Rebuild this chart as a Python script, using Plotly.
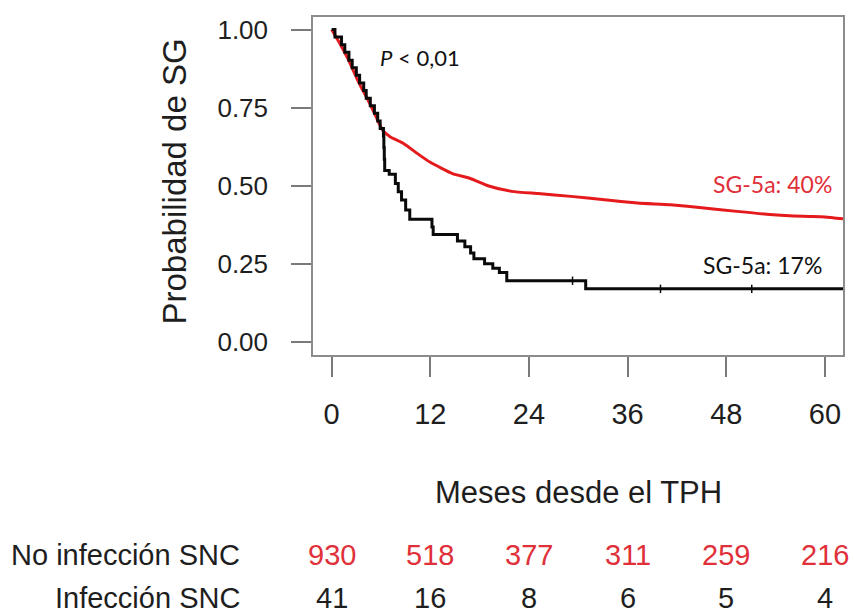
import plotly.graph_objects as go

# Kaplan-Meier overall survival, months since HSCT
months_no_inf = [0, 1.0, 2.0, 3.3, 4.5, 5.5, 6.2, 7.1, 8.7, 10.7, 12.0, 14.7, 16.8,
                 19.0, 21.9, 25.1, 29.1, 33.2, 37.2, 41.2, 45.3, 49.3, 53.3, 57.4, 60.0, 62.2]
surv_no_inf = [1.0, 0.955, 0.905, 0.83, 0.77, 0.715, 0.678, 0.657, 0.636, 0.598, 0.575, 0.539, 0.524,
               0.50, 0.482, 0.475, 0.466, 0.455, 0.445, 0.439, 0.429, 0.418, 0.408, 0.402, 0.40, 0.394]

months_inf = [0, 0.4, 1.2, 1.6, 2.1, 2.5, 3.0, 3.4, 3.9, 4.2, 4.7, 5.2, 5.6, 5.9, 6.3,
              6.35, 6.4, 6.45, 7.0, 7.75, 8.1, 8.5, 9.0, 9.5, 12.2, 12.35, 15.3, 16.2,
              16.9, 17.3, 18.6, 19.6, 20.4, 21.3, 30.9, 62.2]
surv_inf = [1.0, 0.976, 0.951, 0.927, 0.902, 0.878, 0.854, 0.829, 0.805, 0.780, 0.756, 0.732, 0.707, 0.683, 0.659,
            0.622, 0.585, 0.549, 0.537, 0.507, 0.481, 0.454, 0.422, 0.393, 0.368, 0.344, 0.323, 0.305,
            0.285, 0.266, 0.250, 0.236, 0.222, 0.196, 0.170, 0.170]
censor_months_inf = [29.3, 40.0, 51.1]
censor_surv_inf = [0.196, 0.170, 0.170]

tick_months = [0, 12, 24, 36, 48, 60]
at_risk_no_inf = [930, 518, 377, 311, 259, 216]
at_risk_inf = [41, 16, 8, 6, 5, 4]
group_labels = ["No infección SNC", "Infección SNC"]
y_ticks = [0, 0.25, 0.5, 0.75, 1.0]
y_tick_text = ["0.00", "0.25", "0.50", "0.75", "1.00"]

RED_LINE = "#e41a1c"
RED_TEXT = "#e0303a"
DARK = "#1e1e1e"
FRAME = "#8c8c8c"
SANS = "Liberation Sans, Arial, sans-serif"
LABEL_FONT = "Lato, Carlito, Calibri, sans-serif"

# figure geometry (pixels) used to place the risk table below the plot
W, H = 854, 614
M_L, M_R, M_T, M_B = 313, 9, 17, 259
PLOT_H = H - M_T - M_B


def py(pix_y):
    """Convert a page y pixel into paper coordinates."""
    return (H - M_B - pix_y) / PLOT_H


fig = go.Figure()

fig.add_trace(go.Scatter(
    x=months_no_inf, y=surv_no_inf, mode="lines",
    line=dict(color=RED_LINE, width=3, shape="spline", smoothing=0.5),
    hoverinfo="skip",
))
fig.add_trace(go.Scatter(
    x=months_inf, y=surv_inf, mode="lines",
    line=dict(color="#0a0a0a", width=3, shape="hv"),
    hoverinfo="skip",
))
fig.add_trace(go.Scatter(
    x=censor_months_inf, y=censor_surv_inf, mode="markers",
    marker=dict(symbol="line-ns", size=6, line=dict(color="#0a0a0a", width=1.5)),
    hoverinfo="skip",
))

annotations = [
    dict(x=5.6, y=0.912, xref="x", yref="y", xanchor="left", yanchor="middle",
         text="<i>P</i> < 0,01", showarrow=False,
         font=dict(family=LABEL_FONT, size=22, color="#111")),
    dict(x=61.1, y=0.506, xref="x", yref="y", xanchor="right", yanchor="middle",
         text="SG-5a: 40%", showarrow=False,
         font=dict(family=LABEL_FONT, size=23, color=RED_TEXT)),
    dict(x=59.9, y=0.246, xref="x", yref="y", xanchor="right", yanchor="middle",
         text="SG-5a: 17%", showarrow=False,
         font=dict(family=LABEL_FONT, size=23, color="#111")),
    dict(x=0.5, y=py(492), xref="paper", yref="paper", xanchor="center", yanchor="middle",
         text="Meses desde el TPH", showarrow=False,
         font=dict(family=SANS, size=31, color=DARK)),
    dict(x=(173 - M_L) / (W - M_L - M_R), y=py(182), xref="paper", yref="paper",
         xanchor="center", yanchor="middle", textangle=-90,
         text="Probabilidad de SG", showarrow=False,
         font=dict(family=SANS, size=33, color=DARK)),
]

# numbers at risk table
row_y = [py(555), py(598)]
row_colors = [RED_TEXT, DARK]
for label, yy in zip(group_labels, row_y):
    annotations.append(dict(
        x=(242 - M_L) / (W - M_L - M_R), y=yy, xref="paper", yref="paper",
        xanchor="right", yanchor="middle", text=label, showarrow=False,
        font=dict(family=SANS, size=29, color=DARK)))
for counts, yy, col in zip([at_risk_no_inf, at_risk_inf], row_y, row_colors):
    for m, n in zip(tick_months, counts):
        annotations.append(dict(
            x=m, y=yy, xref="x", yref="paper", xanchor="center", yanchor="middle",
            text=str(n), showarrow=False,
            font=dict(family=SANS, size=29, color=col)))

fig.update_layout(
    width=W, height=H,
    margin=dict(l=M_L, r=M_R, t=M_T, b=M_B),
    paper_bgcolor="white", plot_bgcolor="white",
    showlegend=False,
    annotations=annotations,
    xaxis=dict(
        range=[-2.27, 62.2], tickvals=tick_months,
        ticks="outside", ticklen=20, tickwidth=2, tickcolor="#7a7a7a",
        showline=True, linecolor=FRAME, linewidth=1.5, mirror=True,
        showgrid=False, zeroline=False, ticklabelstandoff=12,
        tickfont=dict(family=SANS, size=29, color=DARK),
    ),
    yaxis=dict(
        range=[-0.0416, 1.04], tickvals=y_ticks, ticktext=y_tick_text,
        ticks="outside", ticklen=20, tickwidth=2, tickcolor="#7a7a7a",
        showline=True, linecolor=FRAME, linewidth=1.5, mirror=True,
        showgrid=False, zeroline=False, ticklabelstandoff=18,
        tickfont=dict(family=SANS, size=26, color=DARK),
    ),
)

fig.write_html("out.html")
